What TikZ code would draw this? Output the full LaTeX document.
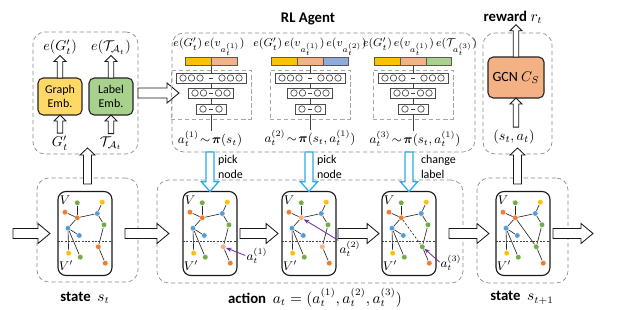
\documentclass[tikz,border=0pt]{standalone}
\usepackage{amsmath}
\usepackage{fontspec}
\setmainfont{Carlito}
\usepackage{tikz}
\usetikzlibrary{arrows.meta, positioning, calc, backgrounds}
\definecolor{gorange}{RGB}{237,125,49}
\definecolor{gblue}{RGB}{91,155,213}
\definecolor{ggreen}{RGB}{112,173,71}
\definecolor{gyellow}{RGB}{255,192,0}
\definecolor{gsalmon}{RGB}{244,177,131}
\definecolor{lyellow}{RGB}{255,217,102}
\definecolor{lgreen}{RGB}{169,209,142}
\definecolor{lblue}{RGB}{143,170,220}
\definecolor{pickblue}{RGB}{40,172,236}
\definecolor{selpurple}{RGB}{112,48,160}

% hollow block arrows between two points
\tikzset{
  fat shaft/.store in=\fatshaft, fat head/.store in=\fathead, fat len/.store in=\fatlen,
  fat gap start/.store in=\fatgs, fat gap end/.store in=\fatge,
  fat shaft=3.5pt, fat head=7pt, fat len=8.5pt, fat gap start=0pt, fat gap end=0pt,
  hollow/.style={draw=black!90, fill=white, line width=0.6pt, to path={
    ($(\tikztostart)!\fatgs!(\tikztotarget)$) coordinate (fats)
    ($(\tikztotarget)!\fatge!(\tikztostart)$) coordinate (fatt)
    ($(fatt)!\fatlen!(fats)$) coordinate (fatm)
    ($(fats)!\fatshaft!90:(fatt)$) -- ($(fatm)!\fatshaft!-90:(fats)$)
    -- ($(fatm)!\fathead!-90:(fats)$) -- (fatt) -- ($(fatm)!\fathead!90:(fats)$)
    -- ($(fatm)!\fatshaft!90:(fats)$) -- ($(fats)!\fatshaft!-90:(fatt)$) -- cycle}}
}

\begin{document}
\begin{tikzpicture}[x=0.025cm, y=-0.025cm,
  every node/.style={inner sep=0pt, outer sep=0pt},
  dbox/.style={draw=black!45, densely dashed, line width=0.5pt, rounded corners=0.3cm},
  embbox/.style={draw=black!85, line width=0.8pt, rounded corners=0.13cm, minimum width=1.1cm, minimum height=0.925cm, align=center, font=\fontsize{8.5}{10}\selectfont},
  netbox/.style={draw=black!35, densely dashed, line width=0.4pt, minimum width=2cm, minimum height=1.225cm},
  barseg/.style={draw=black!65, line width=0.4pt, minimum width=0.64cm, minimum height=0.2cm},
  nnlayer/.style={draw=black!70, line width=0.5pt, fill=white, minimum height=0.25cm},
  neuron/.style={draw=black!75, line width=0.45pt},
  gbox/.style={draw=black!90, line width=0.8pt, rounded corners=0.2cm, minimum width=1.35cm, minimum height=2.1cm},
  vtx/.style={circle, minimum size=4pt, draw=white, line width=0.3pt},
  glink/.style={draw=black!85, line width=0.45pt},
  nolink/.style={draw=none},
  dashlink/.style={glink, dash pattern=on 1.6pt off 1.3pt},
  split/.style={draw=black!75, line width=0.35pt, dash pattern=on 1.4pt off 1pt},
  bigarrow/.style={hollow, fat shaft=3.6pt, fat head=7.1pt, fat len=8.5pt},
  uparrow/.style={hollow, fat shaft=2.8pt, fat head=5.3pt, fat len=5pt},
  tinyarrow/.style={hollow, fat shaft=2pt, fat head=4.3pt, fat len=4.3pt},
  pickarrow/.style={hollow, draw=pickblue, line width=0.9pt, fat shaft=2.8pt, fat head=6.2pt, fat len=7pt},
  selarrow/.style={-{Stealth[length=4pt, width=3pt]}, draw=selpurple, line width=0.6pt, shorten <=1pt},
  mlbl/.style={font=\fontsize{10}{12}\selectfont},
  netlbl/.style={font=\fontsize{8}{10}\selectfont},
  pollbl/.style={font=\fontsize{9}{11}\selectfont},
  blbl/.style={font=\fontsize{10.5}{12}\selectfont},
  picklbl/.style={anchor=west, align=left, font=\fontsize{8.5}{10.5}\selectfont},
  vlbl/.style={font=\fontsize{9}{10}\selectfont}]

  \useasboundingbox (0,0) rectangle (620,310);

  % embedding part
  \node[dbox, minimum width=2.625cm, minimum height=3.05cm] (embarea) at (85.5,93) {};
  \node[embbox, fill=lyellow] (gemb) at (60,96.5) {Graph\\Emb.};
  \node[embbox, fill=lgreen] (lemb) at (111,96.5) {Label\\Emb.};
  \node[mlbl] (egout) at (60,47) {$e(G_t')$};
  \node[mlbl] (elout) at (111,47) {$e(\mathcal{T}_{\mathcal{A}_t})$};
  \node[mlbl] (gin) at (60,143) {$G_t'$};
  \node[mlbl] (lin) at (111,143) {$\mathcal{T}_{\mathcal{A}_t}$};
  \draw[tinyarrow, fat gap start=2pt] (gin.north) to (gemb.south);
  \draw[tinyarrow, fat gap start=2pt] (lin.north) to (lemb.south);
  \draw[tinyarrow, fat gap end=1pt] (gemb.north) to (egout.south);
  \draw[tinyarrow, fat gap end=1pt] (lemb.north) to (elout.south);

  % RL agent
  \node[dbox, minimum width=7.575cm, minimum height=2.975cm] (rl) at (323.5,92.5) {};
  \node[font=\bfseries\fontsize{10.5}{12}\selectfont] (rltitle) at (308,19) {RL Agent};
  \draw[bigarrow, fat gap end=-5pt] (embarea.east) to (embarea.east -| rl.west);

  \node[barseg, fill=gyellow, anchor=east, minimum width=0.65cm] (bar1-a) at (211,61) {};
  \node[barseg, fill=gsalmon, right=0pt of bar1-a, minimum width=0.65cm] (bar1-b) {};
  \node[barseg, fill=gsalmon] (bar2-a) at (310,61) {};
  \node[barseg, fill=gyellow, left=0pt of bar2-a] (bar2-y) {};
  \node[barseg, fill=lblue, right=0pt of bar2-a] (bar2-c) {};
  \node[barseg, fill=gsalmon] (bar3-a) at (413,61) {};
  \node[barseg, fill=gyellow, left=0pt of bar3-a] (bar3-y) {};
  \node[barseg, fill=lgreen, right=0pt of bar3-a] (bar3-c) {};

  \node[netlbl] (emb1) at (209,47) {$e(G_t')\,e(v_{a_t^{(1)}})$};
  \node[netlbl] (emb2) at (310,47) {$e(G_t')\,e(v_{a_t^{(1)}})\,e(v_{a_t^{(2)}})$};
  \node[netlbl] (emb3) at (420,47) {$e(G_t')\,e(v_{a_t^{(1)}})\,e(\mathcal{T}_{a_t^{(3)}})$};

  \foreach \k/\cx in {1/211, 2/310, 3/413}{
    \node[netbox] (net\k) at (\cx,94.5) {};
    \node[nnlayer, minimum width=1.75cm] (la\k) at (\cx,78) {};
    \node[nnlayer, minimum width=1.125cm] (lb\k) at (\cx,93) {};
    \node[nnlayer, minimum width=0.75cm] (lc\k) at (\cx,109) {};
    \foreach \dx in {-28,-19.5,-11,11,19.5,28}
      \draw[neuron] (\cx+\dx,78) circle[radius=2.3pt];
    \foreach \dx in {-16,-7.5,7.5,16}
      \draw[neuron] (\cx+\dx,93) circle[radius=2.3pt];
    \foreach \dx in {-8,8}
      \draw[neuron] (\cx+\dx,109) circle[radius=2.3pt];
    \foreach \ly in {78,93,109}
      \draw[neuron] (\cx-1.8,\ly) -- (\cx+1.8,\ly);
  }

  \node[pollbl] (pol1) at (210,139) {$a_t^{(1)}\!\sim\!\boldsymbol{\pi}(s_t)$};
  \node[pollbl] (pol2) at (310,138) {$a_t^{(2)}\!\sim\!\boldsymbol{\pi}(s_t,a_t^{(1)})$};
  \node[pollbl] (pol3) at (415,139) {$a_t^{(3)}\!\sim\!\boldsymbol{\pi}(s_t,a_t^{(1)})$};

  \begin{scope}[on background layer]
    \draw[neuron] (net1.north |- bar1-a.south) -- (net1.south |- pol1.north);
    \draw[neuron] (net2.north |- bar2-a.south) -- (net2.south |- pol2.north);
    \draw[neuron] (net3.north |- bar3-a.south) -- (net3.south |- pol3.north);
  \end{scope}

  % reward part
  \node[dbox, minimum width=1.725cm, minimum height=3.025cm] (rwarea) at (517.5,93.5) {};
  \node[embbox, fill=gsalmon, minimum width=1.4cm, minimum height=1.025cm, font=\fontsize{10}{12}\selectfont] (gcn) at (516,77.5) {GCN $C_S$};
  \node[mlbl] (sa) at (514,137) {$(s_t, a_t)$};
  \node[font=\fontsize{10.5}{12}\selectfont] (rew) at (513,17) {\textbf{reward} $r_t$};
  \draw[tinyarrow, fat gap start=2pt] (gcn.south |- sa.north) to (gcn.south);
  \draw[tinyarrow, fat gap end=1pt] (gcn.north) to (gcn.north |- rew.south);

  % bottom row
  \node[dbox, minimum width=2.525cm, minimum height=2.6cm] (st) at (87.5,230) {};
  \node[dbox, minimum width=7.65cm, minimum height=2.575cm] (act) at (310,231.5) {};
  \node[dbox, minimum width=2.275cm, minimum height=2.625cm] (st1) at (522.5,230.5) {};
  \node[blbl] (stlbl) at (85,298) {\textbf{state}\ \ $s_t$};
  \node[blbl] (actlbl) at (315,298) {\textbf{action}\ \ $a_t=(a_t^{(1)},a_t^{(2)},a_t^{(3)})$};
  \node[blbl] (st1lbl) at (522,298) {\textbf{state}\ \ $s_{t+1}$};

  \foreach \g/\gx/\hubc/\selc/\newl in {1/85/gorange/gorange/nolink, 2/210/gorange/gsalmon/nolink, 3/309/gsalmon/gsalmon/nolink, 4/409/gorange/ggreen/dashlink, 5/523/gorange/ggreen/glink}{
    \node[gbox] (g\g) at (\gx,233.5) {};
    \node[vlbl] (g\g-V) at ($(g\g.north west)+(7,8.5)$) {$V$};
    \node[vlbl] (g\g-Vp) at ($(g\g.north west)+(8,74)$) {$V'$};
    \draw[split] ($(g\g.north west)+(0,50)$) -- ($(g\g.north east)+(0,50)$);
    \foreach \n/\rx/\ry/\c in {1/19.3/11.3/ggreen, 2/44.3/10.7/gyellow, 3/7/20.7/gorange, 4/19.3/26.3/\hubc, 5/39.3/22/gblue, 6/46/33.3/ggreen, 7/10/36.7/gblue, 8/21.3/44/gblue, 9/40.3/55.3/\selc, 10/10.7/61.7/gyellow, 11/22.3/65.7/ggreen, 12/47.3/71.7/gorange}
      \node[vtx, fill=\c] (g\g-\n) at ($(g\g.north west)+(\rx,\ry)$) {};
    \begin{scope}[on background layer]
      \foreach \a/\b in {1/4, 3/4, 4/5, 5/2, 5/6, 6/9, 9/12, 4/7, 7/8, 7/10, 7/11}
        \draw[glink] (g\g-\a) -- (g\g-\b);
      \draw[\newl] (g\g-4) -- (g\g-9);
    \end{scope}
  }

  % picked nodes
  \node[pollbl] (a1) at (257,256) {$a_t^{(1)}$};
  \node[pollbl] (a2) at (350,249) {$a_t^{(2)}$};
  \node[pollbl] (a3) at (451,263) {$a_t^{(3)}$};
  \draw[selarrow] (a1.west) -- (g2-9);
  \draw[selarrow] (a2.north west) -- (g3-4);
  \draw[selarrow] (a3.west) -- (g4-9);

  % flow arrows
  \coordinate (in) at (13,233.5);
  \coordinate (out) at (593,233.5);
  \draw[bigarrow, fat gap end=5.7pt] (in) to (g1.west);
  \draw[bigarrow, fat gap start=9.2pt, fat gap end=10pt] (g1.east) to (g2.west);
  \draw[bigarrow, fat gap start=2.1pt, fat gap end=2.8pt] (g2.east) to (g3.west);
  \draw[bigarrow, fat gap start=1.4pt, fat gap end=2.1pt] (g3.east) to (g4.west);
  \draw[bigarrow, fat gap start=9.2pt, fat gap end=5pt] (g4.east) to (g5.west);
  \draw[bigarrow, fat gap start=2.1pt] (g5.east) to (out);
  \draw[uparrow, fat gap start=-4.3pt, fat gap end=-4.3pt] (st.north) to (st.north |- embarea.south);
  \draw[uparrow, fat gap start=-4.3pt, fat gap end=-4.3pt] (rwarea.south |- st1.north) to (rwarea.south);

  \draw[pickarrow] (rl.south -| g2.north) to (g2.north);
  \draw[pickarrow] (rl.south -| g3.north) to (g3.north);
  \draw[pickarrow] (rl.south -| g4.north) to (g4.north);
  \node[picklbl] (pk1) at (218,167) {pick\\node};
  \node[picklbl] (pk2) at (317,167) {pick\\node};
  \node[picklbl] (pk3) at (421,167) {change\\label};
\end{tikzpicture}
\end{document}
